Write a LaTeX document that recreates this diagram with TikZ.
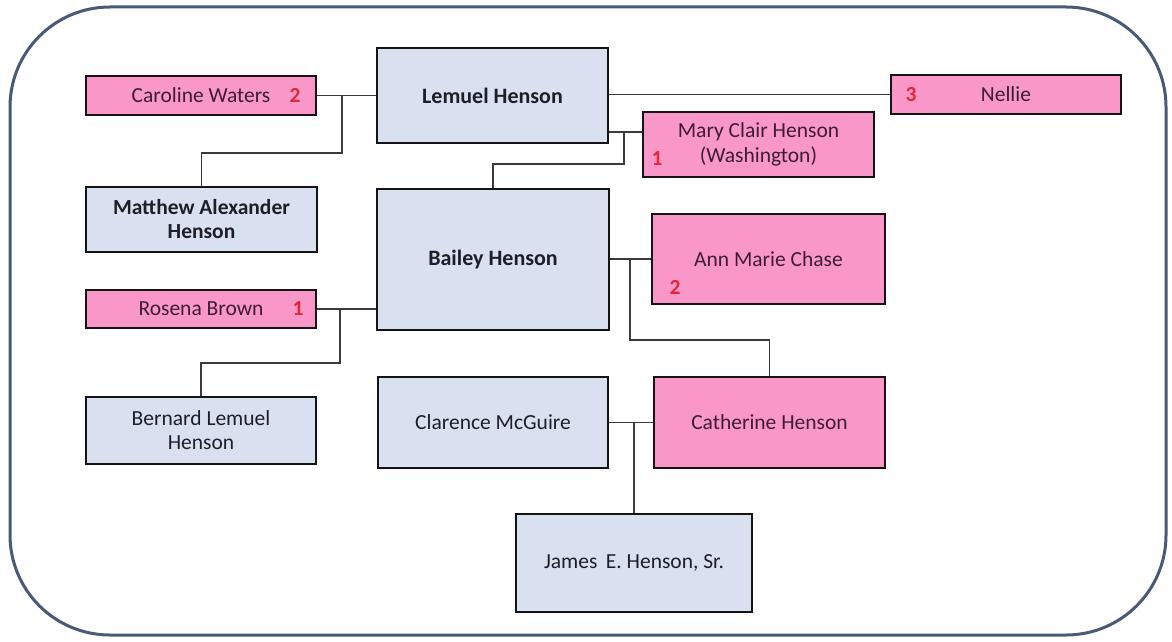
\documentclass[tikz,border=0pt]{standalone}
\usepackage{fontspec}
\setmainfont{Carlito}
\definecolor{boxblue}{HTML}{D9E1F0}
\definecolor{boxpink}{HTML}{F998C8}
\definecolor{framecol}{HTML}{485A78}
\definecolor{txtblue}{HTML}{1E1E28}
\definecolor{txtpink}{HTML}{3E1C38}
\definecolor{numred}{HTML}{E02838}
\definecolor{linecol}{HTML}{3A3A3A}
\tikzset{
  frame/.style={draw=framecol, line width=3pt, rounded corners=100pt},
  person/.style={draw=black!92, line width=2.8pt, inner sep=0pt, align=center,
    font=\fontsize{21.5}{25}\selectfont},
  sz/.style 2 args={minimum width=#1pt, minimum height=#2pt},
  bluebox/.style={person, fill=boxblue, text=txtblue},
  pinkbox/.style={person, fill=boxpink, text=txtpink},
  num/.style={text=numred, font=\fontsize{21.5}{25}\selectfont\bfseries, inner sep=0pt},
  conn/.style={draw=linecol, line width=1.3pt}
}
\begin{document}
\begin{tikzpicture}[x=1pt, y=-1pt]
\useasboundingbox (0,0) rectangle (1172,642);
\fill[white] (0,0) rectangle (1172,642);
\draw[frame] (10,7) rectangle (1166,635);

% nodes
\node[pinkbox, sz={230}{39}] (caroline) at (201,95.5) {Caroline Waters};
\node[bluebox, sz={231}{95}, font=\fontsize{22}{25}\selectfont\bfseries] (lemuel) at (492.5,95.5) {Lemuel Henson};
\node[pinkbox, sz={230}{39}] (nellie) at (1006,94.5) {Nellie};
\node[pinkbox, sz={231}{65}] (mary) at (758.5,144.5) {Mary Clair Henson\\(Washington)};
\node[bluebox, sz={231}{65}, font=\fontsize{21.5}{24}\selectfont\bfseries] (matthew) at (201.5,219.5) {Matthew Alexander\\Henson};
\node[bluebox, sz={232}{141}, font=\fontsize{22}{25}\selectfont\bfseries] (bailey) at (493,259.5) {Bailey Henson};
\node[pinkbox, sz={233}{90}] (ann) at (768.5,259) {Ann Marie Chase};
\node[pinkbox, sz={230}{38}] (rosena) at (201,309) {Rosena Brown};
\node[bluebox, sz={230}{67}, font=\fontsize{21.5}{24}\selectfont] (bernard) at (201,430.5) {Bernard Lemuel\\Henson};
\node[bluebox, sz={230}{91}] (clarence) at (493,422.5) {Clarence McGuire};
\node[pinkbox, sz={231}{91}] (catherine) at (769.5,422.5) {Catherine Henson};
\node[bluebox, sz={236}{98}] (james) at (634,563) {James\, E. Henson, Sr.};

% red numbers
\node[num] (n1) at (295,95) {2};
\node[num] (n2) at (911,95) {3};
\node[num] (n3) at (657,159) {1};
\node[num] (n4) at (298,309) {1};
\node[num] (n5) at (675,287) {2};

% junction coordinates
\coordinate (jc) at (342,95.5);
\coordinate (jm) at (624,132);
\coordinate (jr) at (340,309);
\coordinate (ja) at (630,259);

% connectors
\draw[conn] (caroline.east) -- (lemuel.west |- caroline.east);
\draw[conn] (jc) |- (matthew.north |- 0,153) -- (matthew.north);
\draw[conn] (lemuel.east |- nellie.west) -- (nellie.west);
\draw[conn] (lemuel.east |- jm) -- (mary.west |- jm);
\draw[conn] (jm) |- (bailey.north |- 0,164) -- (bailey.north);
\draw[conn] (rosena.east) -- (bailey.west |- rosena.east);
\draw[conn] (jr) |- (bernard.north |- 0,363) -- (bernard.north);
\draw[conn] (bailey.east |- ann.west) -- (ann.west);
\draw[conn] (ja) |- (catherine.north |- 0,340) -- (catherine.north);
\draw[conn] (clarence.east) -- (catherine.west);
\draw[conn] (james.north |- clarence.east) -- (james.north);
\end{tikzpicture}
\end{document}
